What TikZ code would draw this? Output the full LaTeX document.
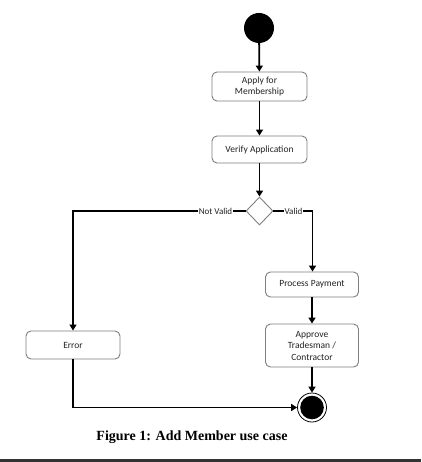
\documentclass[tikz,border=0pt]{standalone}
\usepackage{fontspec}
\setmainfont{Liberation Serif}
\newfontfamily\boxfont{Carlito}
\usetikzlibrary{arrows.meta,shapes.geometric}

\definecolor{boxline}{HTML}{7F7F7F}
\definecolor{boxtext}{HTML}{222222}
\definecolor{barcol}{HTML}{333333}

\tikzset{
  flow/.style={line width=1.8pt, draw=black},
  arr/.style={flow, -{Triangle[length=6pt,width=7pt]}},
  activity/.style={draw=boxline, line width=0.9pt, rounded corners=5pt,
    fill=white, align=center, inner sep=0pt,
    font=\boxfont\fontsize{9.5}{11.5}\selectfont, text=boxtext},
  guard/.style={fill=white, inner sep=0.6pt,
    font=\boxfont\fontsize{9}{10}\selectfont, text=boxtext},
  decision/.style={diamond, draw=boxline, line width=0.9pt, fill=white,
    minimum width=27pt, minimum height=28pt, inner sep=0pt},
}

\begin{document}
\begin{tikzpicture}[x=1pt,y=-1pt]
  \useasboundingbox (0,0) rectangle (421,462);
  \fill[white] (0,0) rectangle (421,462);

  % initial and final states
  \node[circle, fill=black, minimum size=30pt, inner sep=0pt] (start) at (259,28) {};
  \node[circle, draw=black, line width=0.8pt, fill=white, minimum size=29pt, inner sep=0pt] (end) at (312,407.5) {};
  \fill[black] (end.center) circle (11.8pt);

  % activities
  \node[activity, minimum width=95pt, minimum height=29pt] (apply) at (259.5,86.5) {Apply for\\Membership};
  \node[activity, minimum width=95pt, minimum height=27pt] (verify) at (259.5,149.5) {Verify Application};
  \node[decision] (dec) at (259.5,211) {};
  \node[activity, minimum width=94pt, minimum height=28pt] (error) at (73,345) {Error};
  \node[activity, minimum width=93pt, minimum height=25pt] (process) at (312,284.5) {Process Payment};
  \node[activity, minimum width=93pt, minimum height=43pt] (approve) at (312,345.5) {Approve\\Tradesman /\\Contractor};

  % guard labels
  \node[guard] (nv) at (215.5,211) {Not Valid};
  \node[guard] (ok) at (293.5,211) {Valid};
  \coordinate (okturn) at (312.5,211);
  \coordinate (errturn) at (73,407.5);

  % control flow
  \draw[arr] (start) -- (apply);
  \draw[arr] (apply) -- (verify);
  \draw[arr] (verify) -- (dec);
  \draw[flow] (dec.west) -- (nv.east);
  \draw[arr] (nv.west) -| (error.north);
  \draw[flow] (dec.east) -- (ok.west);
  \draw[arr] (ok.east) -- (okturn) -- (okturn |- process.north);
  \draw[arr] (process) -- (approve);
  \draw[arr] (approve) -- (end);
  \draw[arr] (error.south) -- (errturn) -- (end.west);

  % caption and rule
  \node[font=\bfseries\fontsize{14}{16}\selectfont] (caption) at (192,437) {Figure 1: Add Member use case};
  \fill[barcol] (0,458.5) rectangle (421,462);
\end{tikzpicture}
\end{document}
